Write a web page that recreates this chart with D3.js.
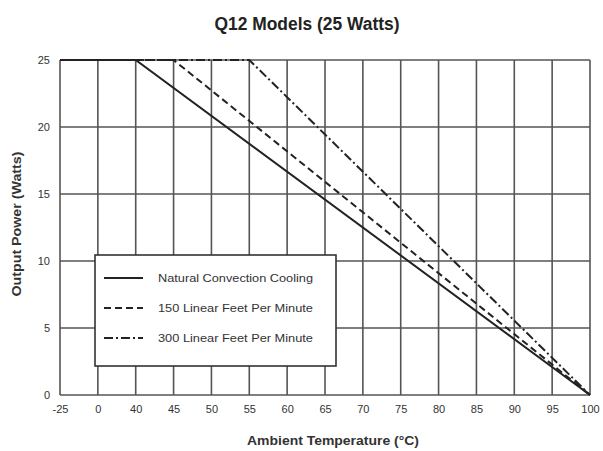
<!DOCTYPE html>
<html><head><meta charset="utf-8">
<script src="https://cdn.jsdelivr.net/npm/d3@7"></script>
<style>body{margin:0;background:#fff}svg{display:block}</style>
</head><body>
<svg id="c" width="603" height="451"></svg>
<script>
const xCategories = ["-25","0","40","45","50","55","60","65","70","75","80","85","90","95","100"];
const yTicks = [0,5,10,15,20,25];
const naturalConvection = [["-25",25],["40",25],["100",0]];
const lfm150 = [["-25",25],["45",25],["100",0]];
const lfm300 = [["-25",25],["55",25],["100",0]];
const seriesNames = ["Natural Convection Cooling","150 Linear Feet Per Minute","300 Linear Feet Per Minute"];

const font = "'Liberation Sans Narrow','Arial Narrow','Liberation Sans',Arial,sans-serif";
const svg = d3.select("#c");
const L=60, R=590, T=60, B=395;
const x = d3.scalePoint().domain(xCategories).range([L,R]);
const y = d3.scaleLinear().domain([0,25]).range([B,T]);
const gridC = "#555";

// grid
const g = svg.append("g");
g.selectAll("line.v").data(xCategories).join("line")
  .attr("x1",d=>x(d)).attr("x2",d=>x(d)).attr("y1",T).attr("y2",B)
  .attr("stroke",gridC).attr("stroke-width",1.6);
g.selectAll("line.h").data(yTicks).join("line")
  .attr("x1",L).attr("x2",R).attr("y1",d=>y(d)).attr("y2",d=>y(d))
  .attr("stroke",gridC).attr("stroke-width",1.6);

// axes labels via d3 axes
const xAxis = svg.append("g").attr("transform",`translate(0,${B})`)
  .call(d3.axisBottom(x).tickSize(0).tickPadding(10));
xAxis.select(".domain").remove();
xAxis.selectAll("text").attr("font-family",font).attr("font-size",11).attr("fill","#333");
const yAxis = svg.append("g").attr("transform",`translate(${L},0)`)
  .call(d3.axisLeft(y).tickValues(yTicks).tickSize(0).tickPadding(10));
yAxis.select(".domain").remove();
yAxis.selectAll("text").attr("font-family",font).attr("font-size",11).attr("fill","#333");

// series
const line = d3.line().x(d=>x(d[0])).y(d=>y(d[1]));
const styles = [
  {data:naturalConvection, dash:null},
  {data:lfm150, dash:"7,4"},
  {data:lfm300, dash:"9,3,2,3"}
];
styles.slice().reverse().forEach(s=>{
  svg.append("path").attr("d",line(s.data)).attr("fill","none")
    .attr("stroke","#222").attr("stroke-width",2)
    .attr("stroke-dasharray",s.dash);
});

// legend
const lg = svg.append("g");
lg.append("rect").attr("x",95).attr("y",255).attr("width",241).attr("height",111)
  .attr("fill","#fff").attr("stroke","#333").attr("stroke-width",1.6);
styles.forEach((s,i)=>{
  const yy = 278 + i*30;
  lg.append("line").attr("x1",104).attr("x2",143).attr("y1",yy).attr("y2",yy)
    .attr("stroke","#222").attr("stroke-width",2).attr("stroke-dasharray",s.dash);
  lg.append("text").attr("x",158).attr("y",yy+4).text(seriesNames[i])
    .attr("font-family",font).attr("font-size",11).attr("fill","#333")
    .attr("textLength",155).attr("lengthAdjust","spacingAndGlyphs");
});

// titles
svg.append("text").attr("x",307).attr("y",30).attr("text-anchor","middle")
  .attr("font-family",font).attr("font-weight","bold").attr("font-size",18).attr("fill","#222")
  .attr("textLength",185).attr("lengthAdjust","spacingAndGlyphs")
  .text("Q12 Models (25 Watts)");
svg.append("text").attr("x",333).attr("y",445).attr("text-anchor","middle")
  .attr("font-family",font).attr("font-weight","bold").attr("font-size",13).attr("fill","#333")
  .attr("textLength",172).attr("lengthAdjust","spacingAndGlyphs")
  .text("Ambient Temperature (°C)");
svg.append("text").attr("transform","translate(21,224) rotate(-90)").attr("text-anchor","middle")
  .attr("font-family",font).attr("font-weight","bold").attr("font-size",12).attr("fill","#333")
  .attr("textLength",145).attr("lengthAdjust","spacingAndGlyphs")
  .text("Output Power (Watts)");
</script>
</body></html>
